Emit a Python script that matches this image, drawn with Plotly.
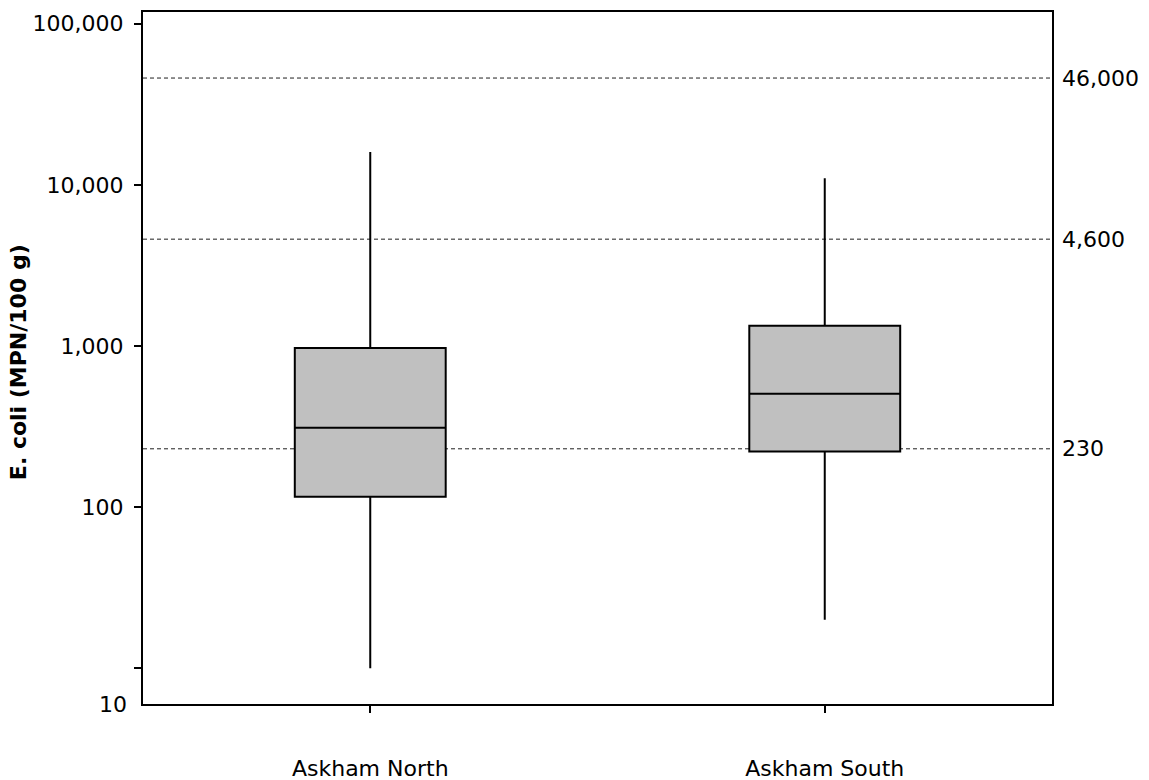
import math
import plotly.graph_objects as go

# Data
sites = ["Askham North", "Askham South"]
lower_whisker = [10, 20]
q1_vals = [116, 221]
median_vals = [311, 505]
q3_vals = [970, 1334]
upper_whisker = [16000, 11000]

ref_values = [46000, 4600, 230]
ref_labels = ["46,000", "4,600", "230"]

ytick_vals = [10, 100, 1000, 10000, 100000]
ytick_text = ["", "100", "1,000", "10,000", "100,000"]
bottom_label = "10"
y_title = "<b>E. coli (MPN/100 g)</b>"

FONT = "DejaVu Sans"

fig = go.Figure()
fig.add_trace(go.Box(
    x=sites,
    q1=q1_vals,
    median=median_vals,
    q3=q3_vals,
    lowerfence=lower_whisker,
    upperfence=upper_whisker,
    width=0.332,
    whiskerwidth=0,
    fillcolor="#c0c0c0",
    line=dict(color="black", width=2),
    boxpoints=False,
    showlegend=False,
    hoverinfo="skip",
))

for v, lab in zip(ref_values, ref_labels):
    fig.add_shape(type="line", xref="paper", x0=0, x1=1, yref="y", y0=v, y1=v,
                  line=dict(color="#1e1e1e", width=1, dash="4px,3px"), layer="below")
    fig.add_annotation(xref="paper", x=1, yref="y", y=math.log10(v), text=lab,
                       showarrow=False, xanchor="left", yanchor="middle", xshift=8,
                       font=dict(family=FONT, size=22, color="black"))

fig.add_annotation(xref="paper", x=0, yref="paper", y=0, text=bottom_label,
                   showarrow=False, xanchor="right", yanchor="middle", xshift=-14,
                   font=dict(family=FONT, size=22, color="black"))

fig.add_annotation(xref="paper", x=0, yref="paper", y=0.494, text=y_title,
                   showarrow=False, xanchor="center", yanchor="middle", xshift=-125,
                   textangle=-90, font=dict(family=FONT, size=22, color="black"))

fig.update_layout(
    width=1149, height=780,
    margin=dict(l=143, r=97, t=12, b=76),
    plot_bgcolor="white", paper_bgcolor="white",
    font=dict(family=FONT, size=22, color="black"),
    xaxis=dict(
        type="category", range=[-0.5, 1.5], automargin=False,
        showline=True, linecolor="black", linewidth=2, mirror=True,
        ticks="outside", ticklen=7, tickwidth=2, tickcolor="black",
        showgrid=False, zeroline=False, ticklabelstandoff=37,
        tickfont=dict(family=FONT, size=22),
    ),
    yaxis=dict(
        type="log", range=[0.778, 5.0726], automargin=False,
        tickvals=ytick_vals, ticktext=ytick_text,
        showline=True, linecolor="black", linewidth=2, mirror=True,
        ticks="outside", ticklen=7, tickwidth=2, tickcolor="black",
        showgrid=False, zeroline=False, ticklabelstandoff=6,
        tickfont=dict(family=FONT, size=22),
    ),
)

fig.write_html("out.html")
